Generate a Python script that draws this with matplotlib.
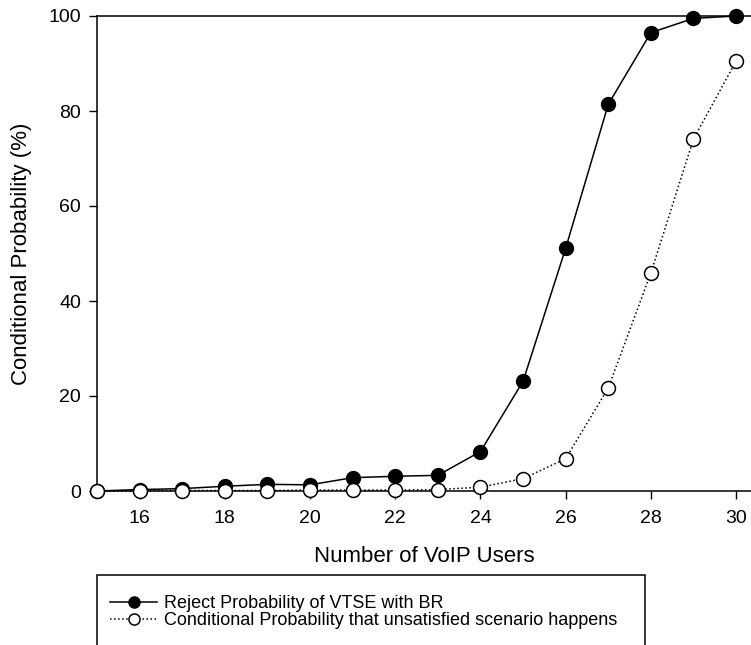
import matplotlib
matplotlib.use("Agg")
import matplotlib.pyplot as plt
from matplotlib.patches import Rectangle

plt.rcParams['font.family'] = ['Liberation Sans', 'DejaVu Sans']

users = [15, 16, 17, 18, 19, 20, 21, 22, 23, 24, 25, 26, 27, 28, 29, 30]
reject_prob = [0.0, 0.3, 0.5, 1.0, 1.4, 1.3, 2.8, 3.1, 3.3, 8.3,
               23.1, 51.1, 81.4, 96.5, 99.5, 100.0]
unsatisfied_prob = [0.0, 0.0, 0.1, 0.1, 0.1, 0.2, 0.2, 0.2, 0.3, 0.8,
                    2.6, 6.8, 21.7, 45.9, 74.1, 90.5]
x_ticks = [16, 18, 20, 22, 24, 26, 28, 30]
y_ticks = [0, 20, 40, 60, 80, 100]

fig = plt.figure(figsize=(7.51, 6.45), dpi=100)
ax = fig.add_axes([97 / 751, 154 / 645, 654 / 751, 475 / 645])

l1, = ax.plot(users, reject_prob, '-', color='black', lw=1.1,
              marker='o', markersize=10, markerfacecolor='black',
              markeredgecolor='black', clip_on=False, zorder=3,
              label='Reject Probability of VTSE with BR')
l2, = ax.plot(users, unsatisfied_prob, ':', color='black', lw=1.1,
              marker='o', markersize=10, markerfacecolor='white',
              markeredgecolor='black', markeredgewidth=1.1, clip_on=False,
              zorder=4,
              label='Conditional Probability that unsatisfied scenario happens')

ax.set_xlim(15, 30.35)
ax.set_ylim(0, 100)
ax.set_xticks(x_ticks)
ax.set_yticks(y_ticks)
ax.tick_params(direction='out', length=5.5, width=1, labelsize=14)
ax.tick_params(axis='x', pad=8)
ax.tick_params(axis='y', pad=6)
ax.spines['right'].set_visible(False)
for s in ['left', 'bottom', 'top']:
    ax.spines[s].set_linewidth(1.1)

ax.set_xlabel('Number of VoIP Users', fontsize=16, labelpad=14)
ax.set_ylabel('Conditional Probability (%)', fontsize=16, labelpad=12)

# boxed legend below the plot, open at the bottom edge
fig.patches.append(Rectangle((97 / 751, -0.05), 548 / 751, 0.05 + 70 / 645,
                             transform=fig.transFigure, fill=False,
                             edgecolor='black', lw=1.1))
fig.legend(handles=[l1, l2], loc='upper left',
           bbox_to_anchor=(101 / 751, 1 - 586 / 645),
           frameon=False, fontsize=13, labelspacing=0,
           handlelength=2.6, handletextpad=0.4, borderpad=0, markerscale=0.8)

fig.savefig('out.png', dpi=100)
